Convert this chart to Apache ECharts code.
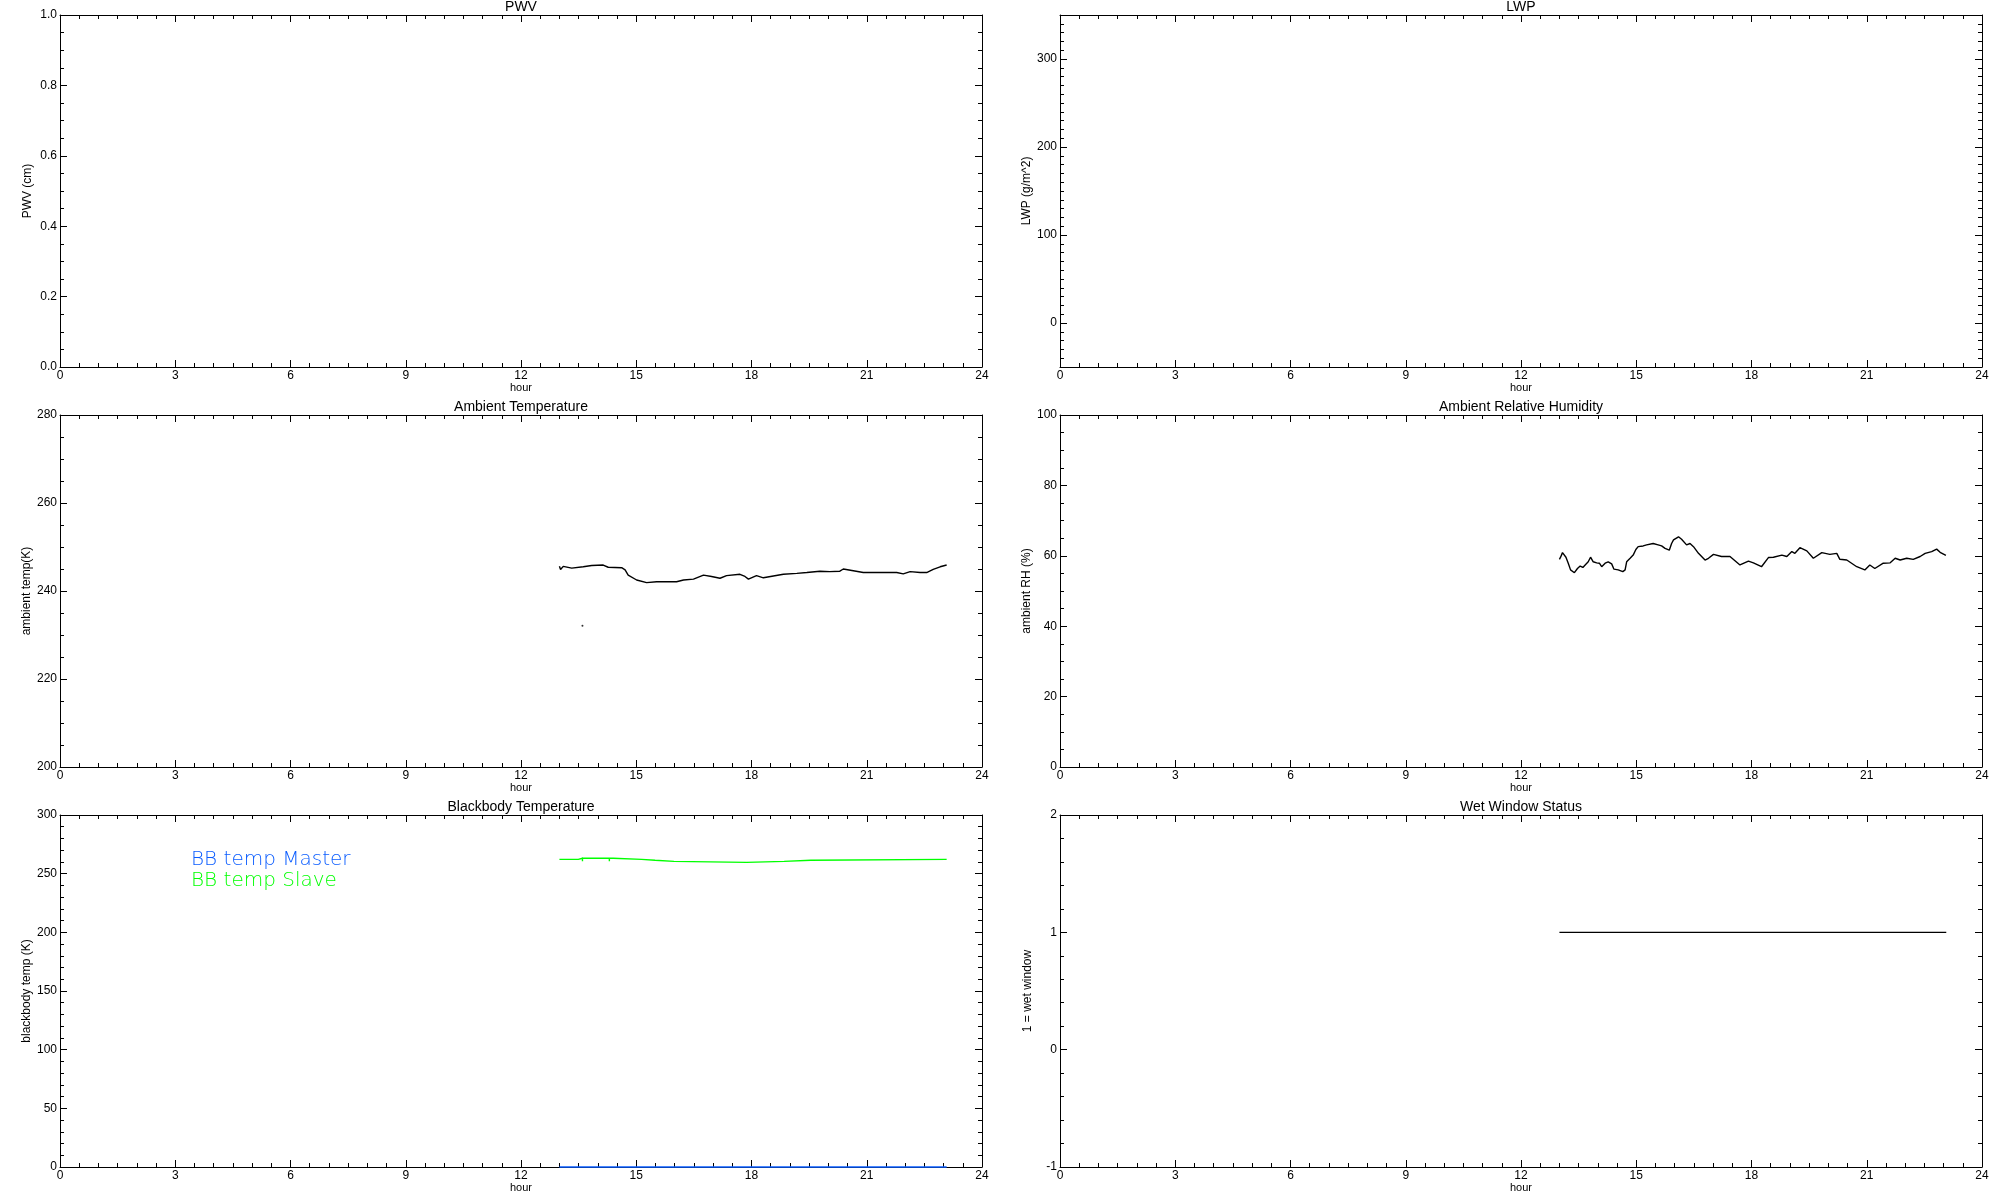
<!DOCTYPE html>
<html><head><meta charset="utf-8">
<script src="https://cdn.jsdelivr.net/npm/echarts@6/dist/echarts.min.js"></script>
<style>html,body{margin:0;padding:0;background:#fff}#c{width:2000px;height:1200px}</style>
</head><body><div id="c"></div>
<script>
// ---------------- data ----------------
const hourTicks = [0, 3, 6, 9, 12, 15, 18, 21, 24];
const pwvTicks = [0, 0.2, 0.4, 0.6, 0.8, 1.0];
const lwpTicks = [0, 100, 200, 300];
const tempTicks = [200, 220, 240, 260, 280];
const rhTicks = [0, 20, 40, 60, 80, 100];
const bbTicks = [0, 50, 100, 150, 200, 250, 300];
const wetTicks = [-1, 0, 1, 2];

const panelTitles = ['PWV', 'LWP', 'Ambient Temperature', 'Ambient Relative Humidity', 'Blackbody Temperature', 'Wet Window Status'];
const yNames = ['PWV (cm)', 'LWP (g/m^2)', 'ambient temp(K)', 'ambient RH (%)', 'blackbody temp (K)', '1 = wet window'];

const tempHours = [13.00,13.03,13.10,13.15,13.32,13.62,13.84,14.14,14.27,14.62,14.71,14.79,15.01,15.27,15.53,15.79,16.05,16.23,16.49,16.75,16.96,17.18,17.35,17.70,17.83,17.92,18.13,18.31,18.57,18.83,19.18,19.44,19.78,20.04,20.30,20.39,20.65,20.91,21.17,21.52,21.78,21.95,22.13,22.39,22.56,22.73,22.91,23.08];
const tempValues = [245.6,244.9,245.6,245.9,245.2,245.5,245.8,245.9,245.4,245.3,244.8,243.6,242.5,241.9,242.1,242.1,242.1,242.5,242.7,243.6,243.3,242.9,243.5,243.8,243.3,242.7,243.5,243.0,243.4,243.8,244.0,244.2,244.5,244.4,244.5,245.0,244.6,244.2,244.2,244.2,244.2,243.9,244.4,244.2,244.2,244.9,245.5,245.9];
const tempOutlierHours = [13.6];
const tempOutlierValues = [232.1];

const rhHours = [13.00,13.03,13.08,13.12,13.17,13.23,13.29,13.39,13.47,13.54,
  13.61,13.67,13.75,13.81,13.88,13.97,14.04,14.10,14.19,14.27,
  14.36,14.42,14.53,14.65,14.71,14.75,14.84,14.92,14.99,15.05,
  15.18,15.27,15.44,15.57,15.66,15.75,15.86,15.92,15.97,16.01,
  16.10,16.18,16.31,16.40,16.49,16.62,16.79,16.88,17.01,17.22,
  17.44,17.70,17.92,18.05,18.26,18.44,18.57,18.79,18.92,19.05,
  19.13,19.26,19.44,19.61,19.83,20.04,20.22,20.30,20.48,20.74,
  20.95,21.08,21.21,21.43,21.61,21.74,21.87,22.04,22.21,22.39,
  22.52,22.69,22.82,22.91,22.95,23.06];
const rhValues = [59.0,59.6,60.9,61.0,59.6,57.9,56.0,55.2,56.4,57.1,
  56.7,57.4,58.3,59.6,58.3,58.0,57.9,56.9,57.9,58.3,
  57.7,56.2,56.0,55.5,56.0,58.3,59.3,60.2,61.8,62.6,
  62.8,63.1,63.5,63.1,62.8,62.1,61.6,63.5,64.5,64.7,
  65.4,64.7,63.1,63.5,62.6,60.7,58.8,59.3,60.4,59.8,
  59.8,57.4,58.5,58.0,56.9,59.5,59.6,60.2,59.8,61.2,
  60.7,62.3,61.4,59.3,60.9,60.4,60.7,59.0,58.8,56.9,
  56.0,57.4,56.4,57.9,58.0,59.3,58.8,59.3,59.0,59.8,
  60.7,61.2,61.9,61.0,60.6,60.1];

const bbSlaveHours = [13.00,13.49,13.60,13.60,14.30,14.30,14.40,15.14,15.49,15.98,17.87,18.85,19.54,23.08];
const bbSlaveValues = [262.2,263.1,260.5,263.1,260.5,263.1,262.2,261.4,260.5,259.6,260.5,261.4,262.2,262.2];
const bbMasterHours = [13.00, 23.08];
const bbMasterValues = [0, 0];

const wetHours = [13.00, 23.07];
const wetValues = [1, 1];

// ---------------- layout / style ----------------
const FONT = 'Liberation Sans';
const BLUE = '#0a5cff';
const GREEN = '#00ff00';
const gridPos = [
  {left: 60, top: 15}, {left: 1060, top: 15},
  {left: 60, top: 415}, {left: 1060, top: 415},
  {left: 60, top: 815}, {left: 1060, top: 815}
];
const GW = 922, GH = 352;

const yCfg = [
  {min: 0, max: 1, step: 0.05, ticks: pwvTicks, fmt: v => Number(v).toFixed(1)},
  {min: -50, max: 350, step: 10, ticks: lwpTicks, fmt: v => String(Math.round(v))},
  {min: 200, max: 280, step: 5, ticks: tempTicks, fmt: v => String(Math.round(v))},
  {min: 0, max: 100, step: 5, ticks: rhTicks, fmt: v => String(Math.round(v))},
  {min: 0, max: 300, step: 10, ticks: bbTicks, fmt: v => String(Math.round(v))},
  {min: -1, max: 2, step: 0.2, ticks: wetTicks, fmt: v => String(Math.round(v))}
];

function makeAxis(dim, grid, pos, min, max, step, ticks, fmt, name, labels, major) {
  const ax = {type: 'value', gridIndex: grid, position: pos, min: min, max: max, interval: step,
    splitLine: {show: false}, axisPointer: {show: false}, silent: true};
  if (major) {
    ax.axisLine = {show: true, onZero: false, lineStyle: {color: '#000', width: 1}};
    ax.axisTick = {show: true, inside: true, length: 7, customValues: ticks, lineStyle: {color: '#000', width: 1}};
    if (labels) {
      ax.axisLabel = {show: true, customValues: ticks, formatter: fmt, color: '#000', fontFamily: FONT, fontSize: 12, margin: 3};
      ax.name = name;
      ax.nameLocation = 'middle';
      ax.nameGap = dim === 'x' ? 14 : 26;
      ax.nameTextStyle = {color: '#000', fontFamily: FONT, fontSize: dim === 'x' ? 11 : 12};
    } else {
      ax.axisLabel = {show: false};
    }
  } else {
    ax.axisLine = {show: false, onZero: false};
    ax.axisTick = {show: true, inside: true, length: 4, lineStyle: {color: '#000', width: 1}};
    ax.axisLabel = {show: false};
  }
  return ax;
}

const grids = [], xAxes = [], yAxes = [], titles = [];
const xfmt = v => String(Math.round(v));
for (let g = 0; g < 6; g++) {
  grids.push({left: gridPos[g].left, top: gridPos[g].top, width: GW, height: GH, containLabel: false});
  xAxes.push(makeAxis('x', g, 'bottom', 0, 24, 0.5, hourTicks, xfmt, 'hour', true, true));
  xAxes.push(makeAxis('x', g, 'bottom', 0, 24, 0.5, hourTicks, xfmt, '', false, false));
  xAxes.push(makeAxis('x', g, 'top', 0, 24, 0.5, hourTicks, xfmt, '', false, true));
  xAxes.push(makeAxis('x', g, 'top', 0, 24, 0.5, hourTicks, xfmt, '', false, false));
  const c = yCfg[g];
  yAxes.push(makeAxis('y', g, 'left', c.min, c.max, c.step, c.ticks, c.fmt, yNames[g], true, true));
  yAxes.push(makeAxis('y', g, 'left', c.min, c.max, c.step, c.ticks, c.fmt, '', false, false));
  yAxes.push(makeAxis('y', g, 'right', c.min, c.max, c.step, c.ticks, c.fmt, '', false, true));
  yAxes.push(makeAxis('y', g, 'right', c.min, c.max, c.step, c.ticks, c.fmt, '', false, false));
  titles.push({text: panelTitles[g], left: gridPos[g].left + GW / 2, top: gridPos[g].top - 15,
    textAlign: 'center', padding: 0,
    textStyle: {fontFamily: FONT, fontSize: 14, fontWeight: 'normal', color: '#000'}});
}

const zip = (a, b) => a.map((x, i) => [x, b[i]]);

const series = [
  {name: 'ambient temp', type: 'line', xAxisIndex: 8, yAxisIndex: 8, data: zip(tempHours, tempValues),
    showSymbol: false, lineStyle: {color: '#000', width: 1.4}, itemStyle: {color: '#000'}, animation: false},
  {name: 'ambient temp outlier', type: 'scatter', xAxisIndex: 8, yAxisIndex: 8, data: zip(tempOutlierHours, tempOutlierValues),
    symbolSize: 2, itemStyle: {color: '#000'}, animation: false},
  {name: 'ambient RH', type: 'line', xAxisIndex: 12, yAxisIndex: 12, data: zip(rhHours, rhValues),
    showSymbol: false, lineStyle: {color: '#000', width: 1.4}, itemStyle: {color: '#000'}, animation: false},
  {name: 'BB temp Master', type: 'line', xAxisIndex: 16, yAxisIndex: 16, data: zip(bbMasterHours, bbMasterValues),
    showSymbol: false, clip: false, lineStyle: {color: BLUE, width: 1.5}, itemStyle: {color: BLUE}, animation: false, z: 5},
  {name: 'BB temp Slave', type: 'line', step: 'end', xAxisIndex: 16, yAxisIndex: 16, data: zip(bbSlaveHours, bbSlaveValues),
    showSymbol: false, lineStyle: {color: GREEN, width: 1.4}, itemStyle: {color: GREEN}, animation: false},
  {name: 'wet window', type: 'line', xAxisIndex: 20, yAxisIndex: 20, data: zip(wetHours, wetValues),
    showSymbol: false, lineStyle: {color: '#000', width: 1.4}, itemStyle: {color: '#000'}, animation: false}
];

const chart = echarts.init(document.getElementById('c'), null, {renderer: 'canvas'});
chart.setOption({
  backgroundColor: '#fff',
  animation: false,
  title: titles,
  grid: grids,
  xAxis: xAxes,
  yAxis: yAxes,
  legend: {
    show: true, orient: 'vertical', left: 185, top: 850, padding: 0,
    itemWidth: 0, itemHeight: 0, itemGap: 1, selectedMode: false,
    textStyle: {fontFamily: 'DejaVu Sans', fontSize: 20, fontWeight: 200},
    data: [
      {name: 'BB temp Master', textStyle: {color: BLUE}},
      {name: 'BB temp Slave', textStyle: {color: GREEN}}
    ]
  },
  series: series
});
</script>
</body></html>
